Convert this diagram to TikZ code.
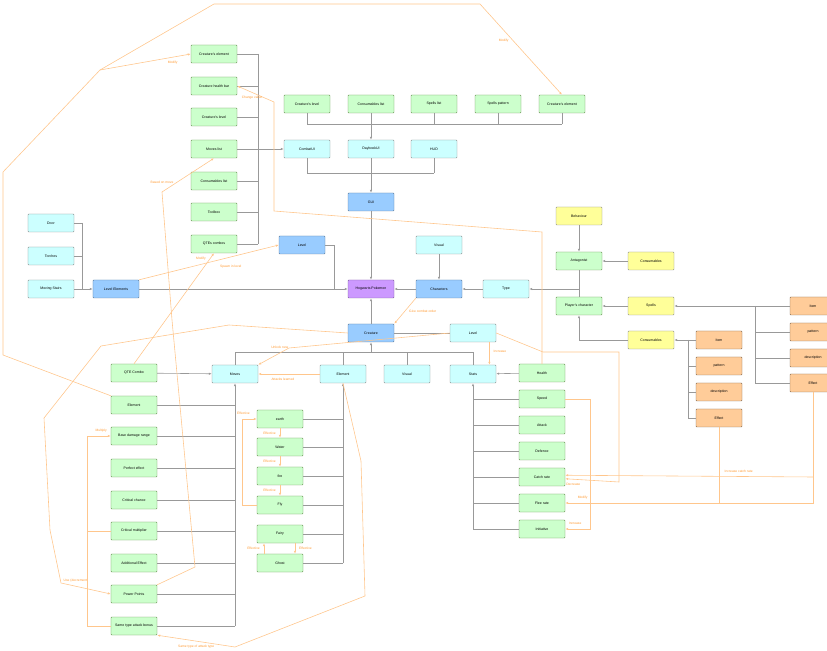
\documentclass[tikz,border=0pt]{standalone}
\usepackage{fontspec}
\setmainfont{Liberation Sans}
\usetikzlibrary{arrows.meta}
\definecolor{gfill}{HTML}{CCFFCC}\definecolor{gline}{HTML}{82B366}
\definecolor{cfill}{HTML}{CCFFFF}\definecolor{bfill}{HTML}{99CCFF}
\definecolor{pfill}{HTML}{CC99FF}\definecolor{yfill}{HTML}{FFFF99}
\definecolor{ofill}{HTML}{FFCC99}\definecolor{rel}{HTML}{FF8000}
\tikzset{
  box/.style={draw=black!45, minimum width=1.38cm, minimum height=0.54cm, rounded corners=0.6pt,
    font=\fontsize{3}{3.6}\selectfont, inner sep=0pt},
  gbox/.style={box, fill=gfill, draw=gline!80!black},
  cbox/.style={box, fill=cfill},
  bbox/.style={box, fill=bfill, draw=bfill!60!black},
  ybox/.style={box, fill=yfill},
  obox/.style={box, fill=ofill, draw=ofill!50!black},
  ln/.style={draw=black!40, line width=0.5pt},
  arr/.style={ln, -{Latex[length=2.5pt,width=2pt]}},
  rl/.style={draw=rel!45, line width=0.5pt, -{Latex[length=2.5pt,width=2pt]}, color=rel!45},
  lb/.style={font=\fontsize{2.8}{3}\selectfont, text=rel!80}
}
\begin{document}
\begin{tikzpicture}[x=0.03cm, y=-0.03cm, >={Latex[length=2.5pt,width=2pt]}]
\useasboundingbox (0,0) rectangle (827,651);
% UI elements
\node [gbox] (celemA) at (214,54) {Creature's element};
\node [gbox] (chealth) at (214,86) {Creature health bar};
\node [gbox] (clevelA) at (214,117) {Creature's level};
\node [gbox] (moveslist) at (214,149) {Moves list};
\node [gbox] (conslist) at (214,181) {Consumables list};
\node [gbox] (toolbox) at (214,212) {Toolbox};
\node [gbox] (qtes) at (214,244) {QTEs combos};
\node [gbox] (clevelB) at (307,104) {Creature's level};
\node [gbox] (conslistB) at (371,104) {Consumables list};
\node [gbox] (spells) at (434,104) {Spells list};
\node [gbox] (spattern) at (498,104) {Spells pattern};
\node [gbox] (celemB) at (562,104) {Creature's element};
\node [cbox] (combat) at (307,149) {CombatUI};
\node [cbox] (daybook) at (371,149) {DaybookUI};
\node [cbox] (hud) at (434,149) {HUD};
\node [bbox] (gui) at (371,202) {GUI};
% main row
\node [box, fill=pfill, draw=pfill!60!black] (hp) at (371,289) {Hogwarts Pokemon};
\node [cbox] (door) at (51,223) {Door};
\node [cbox] (torches) at (51,256) {Torches};
\node [cbox] (stairs) at (51,289) {Moving Stairs};
\node [bbox] (lvlelem) at (116,289) {Level Elements};
\node [bbox] (level) at (302,245) {Level};
\node [cbox] (visualA) at (439,245) {Visual};
\node [bbox] (chars) at (439,289) {Characters};
\node [cbox] (type) at (506,289) {Type};
\node [ybox] (behaviour) at (579,216) {Behaviour};
\node [gbox] (antag) at (579,261) {Antagonist};
\node [ybox] (consA) at (651,261) {Consumables};
\node [gbox] (player) at (579,306) {Player's character};
\node [ybox] (spellsB) at (651,306) {Spells};
\node [ybox] (consB) at (651,340) {Consumables};
\node [obox] (sitem) at (813,306) {Item};
\node [obox] (spat) at (813,332) {pattern};
\node [obox] (sdesc) at (813,358) {description};
\node [obox] (seff) at (813,383) {Effect};
\node [obox] (citem) at (719,340) {Item};
\node [obox] (cpat) at (719,366) {pattern};
\node [obox] (cdesc) at (719,392) {description};
\node [obox] (ceff) at (719,418) {Effect};
% creature
\node [bbox] (creature) at (371,333) {Creature};
\node [cbox] (clevel) at (473,333) {Level};
\node [cbox] (moves) at (235,374) {Moves};
\node [cbox] (element) at (343,374) {Element};
\node [cbox] (visualB) at (407,374) {Visual};
\node [cbox] (stats) at (473,374) {Stats};
\node [gbox] (qte) at (134,373) {QTE Combo};
\node [gbox] (melem) at (134,405) {Element};
\node [gbox] (basedmg) at (134,436) {Base damage range};
\node [gbox] (perfect) at (134,468) {Perfect effect};
\node [gbox] (critc) at (134,500) {Critical chance};
\node [gbox] (critm) at (134,531) {Critical multiplier};
\node [gbox] (addeff) at (134,563) {Additional Effect};
\node [gbox] (pp) at (134,594) {Power Points};
\node [gbox] (stab) at (134,626) {Same type attack bonus};
\node [gbox] (earth) at (280,419) {earth};
\node [gbox] (water) at (280,447) {Water};
\node [gbox] (fire) at (280,476) {fire};
\node [gbox] (fly) at (280,505) {Fly};
\node [gbox] (fairy) at (280,534) {Fairy};
\node [gbox] (ghost) at (280,563) {Ghost};
\node [gbox] (health) at (542,373) {Health};
\node [gbox] (speed) at (542,399) {Speed};
\node [gbox] (attack) at (542,425) {Attack};
\node [gbox] (defence) at (542,451) {Defence};
\node [gbox] (catch) at (542,477) {Catch rate};
\node [gbox] (flee) at (542,503) {Flee rate};
\node [gbox] (init) at (542,529) {Initiative};
% grey links
\coordinate (colA) at (258,0);
\foreach \n in {celemA,chealth,clevelA,moveslist,conslist,toolbox,qtes}
  \draw [ln] (\n.east) -- (\n.east -| colA);
\draw [ln] (celemA.east -| colA) -- (qtes.east -| colA);
\draw [arr] (moveslist) -- (combat);
\coordinate (rowA) at (0,124);
\foreach \n in {clevelB,conslistB,spells,spattern,celemB}
  \draw [ln] (\n.south) -- (\n.south |- rowA);
\draw [ln] (clevelB.south |- rowA) -- (celemB.south |- rowA);
\draw [arr] (conslistB.south |- rowA) -- (daybook);
\coordinate (rowB) at (0,173);
\foreach \n in {combat,daybook,hud}
  \draw [ln] (\n.south) -- (\n.south |- rowB);
\draw [ln] (combat.south |- rowB) -- (hud.south |- rowB);
\draw [arr] (daybook.south |- rowB) -- (gui);
\draw [arr] (gui) -- (hp);
\coordinate (colB) at (82,0);
\foreach \n in {door,torches,stairs}
  \draw [ln] (\n.east) -- (\n.east -| colB);
\draw [ln] (door.east -| colB) -- (stairs.east -| colB);
\draw [arr] (stairs) -- (lvlelem);
\draw [arr] (lvlelem) -- (hp);
\draw [ln] (level.east) -| (334,289);
\draw [arr] (visualA) -- (chars);
\draw [arr] (chars) -- (hp);
\draw [arr] (type) -- (chars);
\draw [arr] (behaviour) -- (antag);
\draw [arr] (consA) -- (antag);
\draw [ln] (antag) -- (player);
\draw [arr] (antag.south |- type) -- (type);
\draw [arr] (spellsB) -- (player);
\draw [arr] (consB.west) -| (player.south);
\coordinate (colC) at (755,0);
\foreach \n in {sitem,spat,sdesc,seff}
  \draw [ln] (\n.west) -- (\n.west -| colC);
\draw [ln] (sitem.west -| colC) -- (seff.west -| colC);
\draw [arr] (sitem) -- (spellsB);
\coordinate (colD) at (688,0);
\foreach \n in {citem,cpat,cdesc,ceff}
  \draw [ln] (\n.west) -- (\n.west -| colD);
\draw [ln] (citem.west -| colD) -- (ceff.west -| colD);
\draw [arr] (citem) -- (consB);
\draw [arr] (creature) -- (hp);
\draw [ln] (clevel) -- (creature);
\coordinate (rowC) at (0,352);
\foreach \n in {moves,element,visualB,stats}
  \draw [ln] (\n.north) -- (\n.north |- rowC);
\draw [ln] (moves.north |- rowC) -- (stats.north |- rowC);
\draw [arr] (creature.south |- rowC) -- (creature);
\draw [arr] (qte) -- (moves);
\foreach \n in {melem,basedmg,perfect,critc,critm,addeff,pp,stab}
  \draw [ln] (\n.east) -- (\n.east -| moves);
\draw [arr] (stab.east -| moves) -- (moves);
\foreach \n in {earth,water,fire,fly,fairy,ghost}
  \draw [ln] (\n.east) -- (\n.east -| element);
\draw [arr] (ghost.east -| element) -- (element);
\draw [arr] (health) -- (stats);
\foreach \n in {speed,attack,defence,catch,flee,init}
  \draw [ln] (\n.west) -- (\n.west -| stats);
\draw [arr] (init.west -| stats) -- (stats);
% orange relations
\draw [rl] (melem.north west) -- (3,355) -- (3,172) -- (100,70) -- node [lb, below, pos=0.8] {Modify} (celemA.west);
\draw [rl] (100,70) -- (214,4) -- (480,4) -- node [lb, left, pos=0.4] {Modify} (celemB.north);
\draw [rl] (health.north) -- (542,232) -- (274,211) -- (274,102) -- node [lb, below, pos=0.6] {Change value} (chealth.east);
\draw [rl] (pp.north east) -- (195,567) -- (172,320) -- (162,192) -- node [lb, left, pos=0.3] {Based on move} (moveslist.south);
\draw [rl] (qte.north) -- node [lb, left, pos=0.95] {Modify} (qtes.south);
\draw [rl] (lvlelem.north east) -- node [lb, below right, pos=0.55] {Spawn in level} (level.west);
\draw [rl] (creature.west) -- (229,325) -- (101,346) -- (44,418) -- (50,530) -- (61,583) -- node [lb, above, pos=0.3] {Use (decrement)} (pp.west);
\draw [rl] (element.south) -- (361,461) -- (365,596) -- (235,647) -- node [lb, below, pos=0.5] {Same type of attack type} (stab.south east);
\draw [rl] (element) -- node [lb, below, pos=0.6] {Attacks learned} (moves);
\draw [rl] (clevel.west) -- (289,348) -- node [lb, above, pos=0.3] {Unlock new} (moves.north east);
\draw [rl] (clevel.east) -- (543,352) -- (619,352) -- (619,482) -- node [lb, below, pos=0.85] {Decrease} ([yshift=-1.5]catch.east);
\draw [rl] ([xshift=14]clevel.south) -- node [lb, right, pos=0.4] {Increase} ([xshift=14]stats.north);
\draw [rl] (speed.east) -- (590,399) -- (590,529) -- node [lb, above, pos=0.6] {Increase} (init.east);
\draw [rl] (seff.south) -- (813,503) -- node [lb, above, pos=0.93] {Modify} (flee.east);
\draw [rl] (813,477) -- node [lb, above, pos=0.3] {Increase catch rate} ([yshift=1.5]catch.east);
\draw [rel!45, line width=0.5pt] (ceff.south) -- (719,503);
\draw [rl] (chars.south west) -- node [lb, right, pos=0.5] {Give combat order} (creature.north east);
\draw [rl] (stab.west) -- (87,626) -- (87,436) -- node [lb, above, pos=0.6] {Multiply} (basedmg.west);
\draw [rel!45, line width=0.5pt] (critm.west) -- (87,531);
\draw [rl] (fly.west) -- (242,505) -- (242,419) -- node [lb, above, pos=0.1] {Effective} (earth.west);
\draw [rl] (earth) -- node [lb, left] {Effective} (water);
\draw [rl] (water) -- node [lb, left] {Effective} (fire);
\draw [rl] (fire) -- node [lb, left] {Effective} (fly);
\draw [rl] (ghost.north -| 264,0) -- node [lb, left] {Effective} (fairy.south -| 264,0);
\draw [rl] (fairy.south -| 295,0) -- node [lb, right] {Effective} (ghost.north -| 295,0);
\end{tikzpicture}
\end{document}
